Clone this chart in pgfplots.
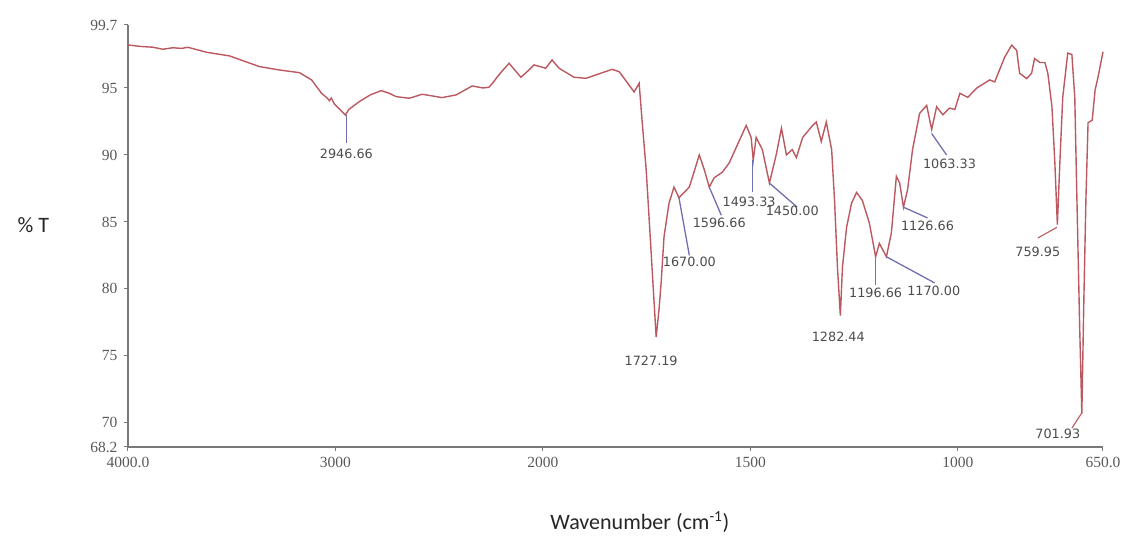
\documentclass[border=0pt]{standalone}
\usepackage{pgfplots}
\pgfplotsset{compat=1.18}
\usepackage{fontspec}
\setmainfont{Liberation Serif}
\newfontfamily\peakfont{DejaVu Sans}
\newfontfamily\titlefont{Carlito}
\definecolor{curve}{RGB}{188,88,96}
\definecolor{ann}{RGB}{112,112,176}
\definecolor{axgray}{RGB}{120,120,120}
\tikzset{peak/.style={font=\peakfont\fontsize{12.8}{12.8}\selectfont, text=black!70, inner sep=0pt}}
\pgfplotstableread{
wn T
4000 98.21
3940 98.10
3880 98.04
3832 97.89
3784 98.00
3740 97.95
3712 98.04
3620 97.66
3510 97.39
3440 97.00
3365 96.59
3269 96.34
3173 96.14
3115 95.60
3067 94.60
3040 94.25
3029 94.05
3020 94.25
3005 93.80
2952 92.98
2935 93.40
2885 93.98
2830 94.50
2779 94.80
2740 94.60
2707 94.35
2644 94.23
2582 94.53
2486 94.28
2418 94.48
2341 95.15
2290 95.00
2260 95.05
2240 95.40
2221 95.80
2200 96.20
2163 96.84
2106 95.80
2070 96.30
2043 96.72
2015 96.60
1993 96.47
1978 97.09
1961 96.47
1925 95.80
1896 95.72
1833 96.39
1816 96.21
1780 94.70
1768 95.35
1761 92.60
1751 88.90
1739 82.70
1727 76.40
1720 78.50
1715 80.45
1708 83.90
1696 86.40
1684 87.60
1672 86.80
1647 87.60
1623 90.00
1611 88.90
1599 87.60
1587 88.30
1568 88.70
1551 89.40
1510 92.20
1498 91.30
1493 89.60
1486 91.30
1471 90.40
1454 87.90
1437 90.10
1425 92.00
1413 90.00
1399 90.40
1389 89.80
1374 91.30
1350 92.20
1341 92.46
1329 91.00
1317 92.46
1304 90.40
1297 86.60
1290 81.60
1283 78.00
1278 81.60
1268 84.60
1256 86.40
1244 87.20
1230 86.60
1213 84.90
1198 82.40
1189 83.40
1172 82.40
1160 84.20
1148 88.40
1140 87.90
1131 86.10
1121 87.40
1109 90.40
1092 93.10
1075 93.70
1063 91.90
1051 93.60
1036 93.00
1020 93.50
1007 93.40
995 94.60
976 94.30
954 95.00
923 95.60
911 95.45
887 97.30
870 98.20
858 97.80
851 96.10
834 95.70
822 96.10
815 97.20
802 96.90
790 96.90
783 96.10
773 93.60
766 89.40
760 84.80
754 89.40
747 94.30
735 97.60
725 97.50
718 94.30
713 86.90
706 76.90
701 70.70
696 79.40
691 86.90
686 92.40
676 92.60
669 94.85
662 95.80
650 97.70
}\spectrum
\begin{document}
\begin{tikzpicture}[x=1pt,y=1pt]
\path[use as bounding box] (0,0) rectangle (1125,540);
\begin{axis}[
  at={(128pt,93pt)}, anchor=south west,
  scale only axis, width=975pt, height=422pt,
  x coord trafo/.code={\pgfmathparse{min(#1,1000+#1/2)}},
  x coord inv trafo/.code={\pgfmathparse{max(#1,2*#1-2000)}},
  x dir=reverse,
  xmin=650, xmax=4000, ymin=68.2, ymax=99.7,
  axis x line=bottom, axis y line=left,
  axis line style={axgray, line width=1.8pt, -},
  xtick={4000,3000,2000,1500,1000,650},
  xticklabels={4000.0,3000,2000,1500,1000,650.0},
  ytick={68.2,70,75,80,85,90,95,99.7},
  yticklabels={68.2,70,75,80,85,90,95,99.7},
  tick align=outside, major tick length=4pt,
  tick style={axgray, line width=1pt},
  tick label style={font=\fontsize{15.5}{15.5}\selectfont, text=black!65},
  xticklabel style={yshift=-3pt},
  yticklabel style={xshift=-3pt},
  clip=false,
  xlabel={\titlefont Wavenumber (cm\textsuperscript{-1})},
  xlabel style={at={(axis description cs:0.525,-0.178)}, anchor=center, font=\fontsize{22}{22}\selectfont, text=black!85},
  ylabel={\titlefont \% T},
  ylabel style={at={(axis description cs:-0.097,0.526)}, anchor=center, rotate=-90, font=\fontsize{22}{22}\selectfont, text=black!85},
]
\addplot[curve, line width=1.4pt, no markers] table[x=wn, y=T] {\spectrum};
% annotation leaders
\addplot[ann, line width=1.3pt, no markers] coordinates {(2947,93.0) (2947,90.9)};
\addplot[ann, line width=1.3pt, no markers] coordinates {(1672,86.8) (1647,82.5)};
\addplot[ann, line width=1.3pt, no markers] coordinates {(1599,87.6) (1570,85.5)};
\addplot[ann, line width=1.3pt, no markers] coordinates {(1495,89.6) (1495,87.2)};
\addplot[ann, line width=1.3pt, no markers] coordinates {(1454,87.9) (1387,86.1)};
\addplot[ann, line width=1.3pt, no markers] coordinates {(1198,82.4) (1198,80.3)};
\addplot[ann, line width=1.3pt, no markers] coordinates {(1172,82.4) (1056,80.45)};
\addplot[ann, line width=1.3pt, no markers] coordinates {(1131,86.1) (1073,85.3)};
\addplot[ann, line width=1.3pt, no markers] coordinates {(1063,91.6) (1027,90.0)};
\addplot[curve, line width=1.1pt, no markers] coordinates {(761,84.6) (807,83.8)};
\addplot[curve, line width=1.1pt, no markers] coordinates {(701,70.75) (725,69.6)};
% labels
\node[peak] at (axis cs:2947,90.07) {2946.66};
\node[peak] at (axis cs:1739,74.6) {1727.19};
\node[peak] at (axis cs:1647,82.0) {1670.00};
\node[peak] at (axis cs:1575,84.9) {1596.66};
\node[peak] at (axis cs:1503,86.5) {1493.33};
\node[peak] at (axis cs:1399,85.8) {1450.00};
\node[peak] at (axis cs:1288,76.4) {1282.44};
\node[peak] at (axis cs:1198,79.7) {1196.66};
\node[peak] at (axis cs:1058,79.85) {1170.00};
\node[peak] at (axis cs:1073,84.7) {1126.66};
\node[peak] at (axis cs:1020,89.3) {1063.33};
\node[peak] at (axis cs:807,82.8) {759.95};
\node[peak] at (axis cs:759,69.2) {701.93};
\end{axis}
\end{tikzpicture}
\end{document}
